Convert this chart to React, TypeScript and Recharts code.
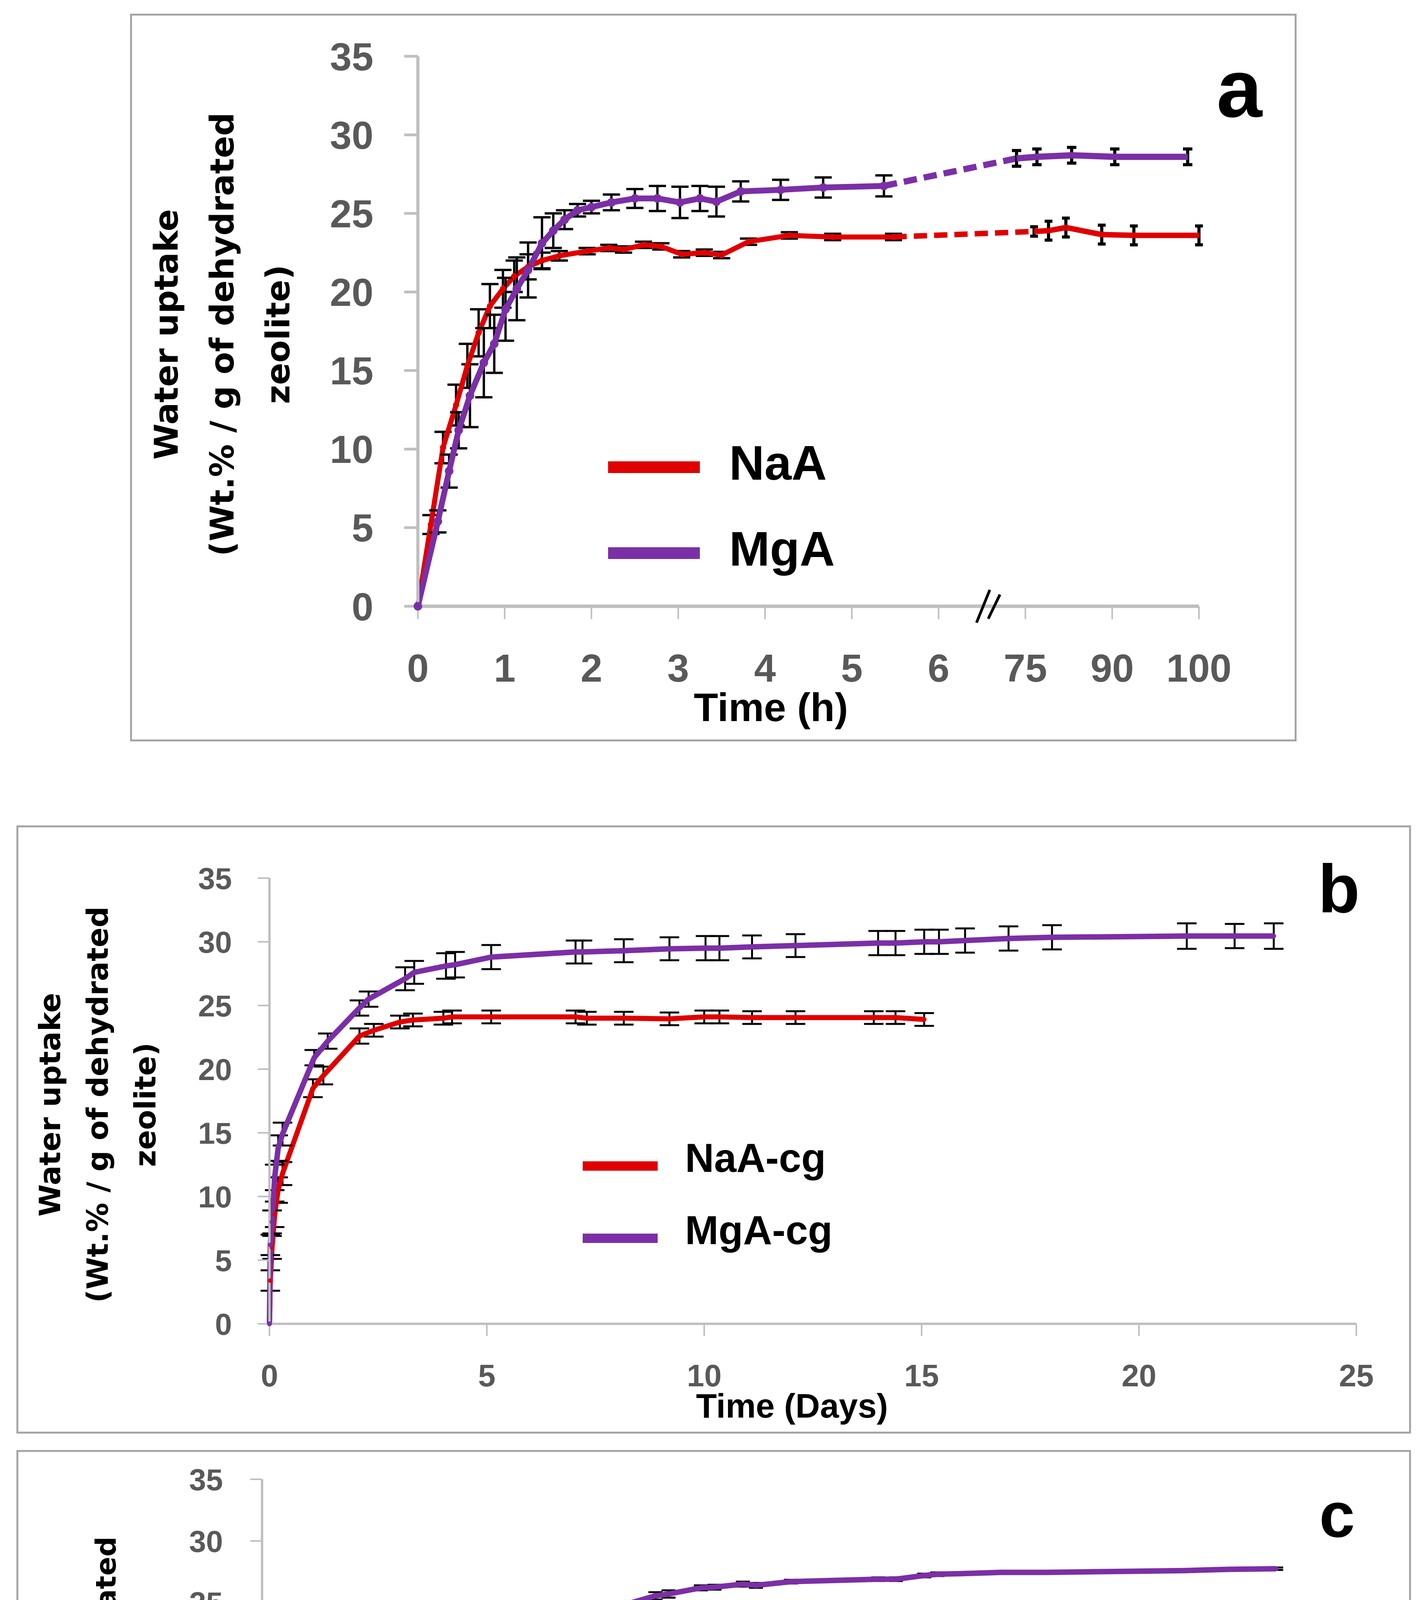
import React from 'react';
import { LineChart, Line, XAxis, YAxis, ErrorBar, Legend, ReferenceDot } from 'recharts';

const RED = '#E00000';
const PURPLE = '#7B2FA6';
const AXIS = '#BFBFBF';
const TICK_TEXT = '#595959';
const BORDER = '#A6A6A6';
const SANS = "'Liberation Sans', Arial, sans-serif";
const WIDE = "'DejaVu Sans', Verdana, sans-serif";

const uptakeTicks = [0, 5, 10, 15, 20, 25, 30, 35];
const dayTicks = [0, 5, 10, 15, 20, 25];

// (a) time in hours, the axis is broken after 6 h
const hourTicks = [0, 1, 2, 3, 4, 5, 6, 75, 90, 100];

const naAHours = [0, 0.15, 0.29, 0.44, 0.57, 0.7, 0.83, 0.98, 1.11, 1.27, 1.43, 1.63, 1.95, 2.2, 2.37, 2.6, 2.8, 3.04, 3.3, 3.5, 3.81, 4.28, 4.78, 5.48];
const naAUptake = [0, 5.2, 10.1, 12.8, 15.3, 17.4, 19.1, 20.2, 21.0, 21.6, 22.0, 22.3, 22.6, 22.8, 22.7, 23.0, 22.9, 22.4, 22.5, 22.35, 23.2, 23.6, 23.5, 23.5];
const naAError = [0, 0.6, 1.0, 1.3, 1.4, 1.5, 1.4, 1.2, 1.0, 0.8, 0.5, 0.3, 0.2, 0.2, 0.2, 0.2, 0.2, 0.2, 0.2, 0.2, 0.2, 0.2, 0.2, 0.2];
const naALateHours = [76.5, 79, 82, 88.2, 92.5, 100];
const naALateUptake = [23.85, 23.9, 24.1, 23.65, 23.6, 23.6];
const naALateError = [0.3, 0.6, 0.6, 0.6, 0.6, 0.6];

const mgAHours = [0, 0.23, 0.36, 0.47, 0.6, 0.76, 0.88, 1.01, 1.14, 1.27, 1.43, 1.56, 1.69, 1.84, 2.0, 2.23, 2.5, 2.76, 3.02, 3.25, 3.44, 3.72, 4.18, 4.67, 5.37];
const mgAUptake = [0, 5.4, 8.6, 11.2, 13.4, 15.5, 16.7, 18.9, 20.2, 21.4, 23.1, 23.9, 24.6, 25.2, 25.4, 25.7, 25.95, 25.95, 25.7, 25.95, 25.75, 26.4, 26.5, 26.65, 26.75];
const mgAError = [0, 0.7, 1.05, 1.15, 2.0, 2.2, 1.85, 2.0, 2.0, 1.75, 1.65, 1.1, 0.6, 0.4, 0.4, 0.5, 0.6, 0.8, 1.0, 0.8, 0.95, 0.64, 0.64, 0.64, 0.67];
const mgALateHours = [68, 77, 83, 90.3, 98.7];
const mgALateUptake = [28.5, 28.6, 28.7, 28.6, 28.6];
const mgALateError = [0.5, 0.5, 0.5, 0.5, 0.5];

// (b) time in days
const naACgDays = [0, 0.02, 0.06, 0.12, 0.2, 0.3, 1.0, 1.24, 2.07, 2.4, 3.0, 3.3, 4.0, 4.2, 5.1, 7.04, 7.3, 8.15, 9.2, 10.0, 10.35, 11.1, 12.1, 13.9, 14.4, 15.06];
const naACgUptake = [0, 3.4, 6.0, 8.6, 10.5, 11.8, 18.5, 19.5, 22.6, 23.05, 23.7, 23.86, 24.0, 24.1, 24.1, 24.1, 24.0, 24.0, 23.95, 24.1, 24.1, 24.05, 24.05, 24.05, 24.05, 23.9];
const naACgError = [0, 0.8, 0.9, 1.0, 1.0, 0.9, 0.7, 0.7, 0.6, 0.5, 0.5, 0.5, 0.5, 0.5, 0.5, 0.5, 0.5, 0.5, 0.5, 0.5, 0.5, 0.5, 0.5, 0.5, 0.5, 0.5];

const mgACgDays = [0, 0.02, 0.06, 0.12, 0.2, 0.3, 1.03, 1.34, 2.07, 2.28, 3.12, 3.33, 4.06, 4.27, 5.1, 7.04, 7.2, 8.15, 9.2, 10.03, 10.35, 11.1, 12.1, 14.0, 14.4, 15.06, 15.4, 16.0, 17.0, 18.0, 21.1, 22.2, 23.1];
const mgACgUptake = [0, 6.2, 8.0, 11.5, 13.8, 14.9, 20.9, 22.2, 24.8, 25.5, 27.1, 27.6, 28.1, 28.2, 28.8, 29.2, 29.2, 29.3, 29.45, 29.5, 29.5, 29.6, 29.7, 29.9, 29.9, 30.0, 30.0, 30.1, 30.26, 30.35, 30.45, 30.45, 30.45];
const mgACgError = [0, 0.8, 0.9, 1.0, 1.0, 0.9, 0.6, 0.6, 0.6, 0.6, 0.9, 0.9, 1.0, 1.0, 0.95, 0.9, 0.9, 0.9, 0.9, 0.95, 0.95, 0.9, 0.9, 0.95, 0.95, 0.95, 0.95, 0.95, 0.95, 0.95, 1.0, 0.95, 1.0];

// (c) time in days
const naACmpDays = [0, 0.08, 0.17, 0.25, 0.35, 0.98, 1.19, 2.02, 2.3, 2.96, 3.27, 4.0, 4.27, 5.04, 6.9, 7.17, 8.0, 9.0, 9.3, 10.04, 10.35, 11.0, 11.3, 12.0, 14.0, 14.4, 15.1];
const naACmpUptake = [0, 1.6, 3.5, 4.8, 5.4, 11.4, 12.4, 17.1, 18.1, 20.8, 21.4, 22.7, 22.85, 23.1, 23.2, 23.3, 23.3, 23.2, 23.3, 23.3, 23.3, 23.3, 23.2, 23.3, 23.35, 23.3, 23.5];
const naACmpError = [0, 0.4, 0.4, 0.4, 0.4, 0.5, 0.5, 0.5, 0.5, 0.4, 0.4, 0.3, 0.3, 0.3, 0.3, 0.3, 0.3, 0.3, 0.3, 0.3, 0.3, 0.3, 0.3, 0.3, 0.35, 0.35, 0.45];

const mgACmpDays = [0, 0.08, 0.15, 0.25, 0.35, 1.08, 1.29, 2.02, 2.3, 3.06, 3.33, 4.0, 4.27, 5.04, 6.9, 7.17, 8.06, 9.0, 9.3, 10.04, 10.35, 11.0, 11.3, 12.1, 14.1, 14.5, 15.15, 15.45, 16.0, 16.9, 17.96, 21.1, 22.1, 23.2];
const mgACmpUptake = [0, 1.3, 2.9, 4.1, 4.9, 9.2, 10.0, 12.7, 13.5, 15.6, 16.3, 17.8, 18.4, 20.0, 23.2, 23.65, 24.6, 25.55, 25.7, 26.2, 26.25, 26.5, 26.4, 26.7, 26.9, 26.9, 27.2, 27.3, 27.35, 27.45, 27.45, 27.6, 27.7, 27.75];
const mgACmpError = [0, 0.4, 0.4, 0.4, 0.4, 0.45, 0.45, 0.45, 0.45, 0.45, 0.45, 0.5, 0.5, 0.5, 0.3, 0.3, 0.3, 0.3, 0.3, 0.2, 0.2, 0.2, 0.2, 0.15, 0.15, 0.15, 0.15, 0.15, 0.1, 0.1, 0.1, 0.1, 0.1, 0.1];

type Row = { x: number; y: number; err: number };

// piecewise map of hours onto the broken axis (one unit per tick)
const hourToAxis = (h: number) => {
  for (let i = 0; i < hourTicks.length - 1; i++) {
    const a = hourTicks[i];
    const b = hourTicks[i + 1];
    if (h <= b) return i + (h - a) / (b - a);
  }
  return hourTicks.length - 1;
};

const rows = (xs: number[], ys: number[], es: number[], map = (v: number) => v): Row[] =>
  xs.map((x, i) => ({ x: map(x), y: ys[i], err: es[i] }));

const naAEarly = rows(naAHours, naAUptake, naAError, hourToAxis);
const naALate = rows(naALateHours, naALateUptake, naALateError, hourToAxis);
const mgAEarly = rows(mgAHours, mgAUptake, mgAError, hourToAxis);
const mgALate = rows(mgALateHours, mgALateUptake, mgALateError, hourToAxis);
const naABridge = [naAEarly[naAEarly.length - 1], naALate[0]];
const mgABridge = [mgAEarly[mgAEarly.length - 1], mgALate[0]];

const naACg = rows(naACgDays, naACgUptake, naACgError);
const mgACg = rows(mgACgDays, mgACgUptake, mgACgError);
const naACmp = rows(naACmpDays, naACmpUptake, naACmpError);
const mgACmp = rows(mgACmpDays, mgACmpUptake, mgACmpError);

// room kept for the axes inside the chart margins
const Y_AXIS_W = 120;
const X_AXIS_H = 120;

const Frame = ({ left, top, width, height, children }: any) => (
  <div style={{ position: 'absolute', left, top, width, height }}>
    <div
      style={{
        position: 'absolute',
        inset: 0,
        border: `5px solid ${BORDER}`,
        boxSizing: 'border-box',
      }}
    />
    {children}
  </div>
);

const YTitle = ({ cx, cy, lines, fontSize, lineHeight }: any) => (
  <div
    style={{
      position: 'absolute',
      left: cx,
      top: cy,
      transform: 'translate(-50%, -50%) rotate(-90deg)',
      whiteSpace: 'nowrap',
      textAlign: 'center',
      fontFamily: WIDE,
      fontWeight: 'bold',
      fontSize,
      lineHeight: `${lineHeight}px`,
      color: '#000',
    }}
  >
    {lines.map((l: string) => (
      <div key={l}>{l}</div>
    ))}
  </div>
);

const XTitle = ({ cx, cy, text, fontSize }: any) => (
  <div
    style={{
      position: 'absolute',
      left: cx,
      top: cy,
      transform: 'translate(-50%, -50%)',
      whiteSpace: 'nowrap',
      fontFamily: SANS,
      fontWeight: 'bold',
      fontSize,
      lineHeight: 1,
      color: '#000',
    }}
  >
    {text}
  </div>
);

const PanelLetter = ({ left, top, text, fontSize }: any) => (
  <div
    style={{
      position: 'absolute',
      left,
      top,
      fontFamily: SANS,
      fontWeight: 'bold',
      fontSize,
      lineHeight: 1,
      color: '#000',
    }}
  >
    {text}
  </div>
);

// legend drawn from the chart's own payload, kept in series order
const legendContent = (
  order: string[],
  o: { rowH: number; swW: number; swH: number; gap: number; fontSize: number; lift: number }
) => (props: any) => {
  const items = (props.payload || [])
    .filter((p: any) => p.type !== 'none' && order.includes(p.value))
    .sort((a: any, b: any) => order.indexOf(a.value) - order.indexOf(b.value));
  return (
    <div>
      {items.map((p: any) => (
        <div key={p.value} style={{ display: 'flex', alignItems: 'center', height: o.rowH }}>
          <div style={{ width: o.swW, height: o.swH, background: p.color }} />
          <span
            style={{
              marginLeft: o.gap,
              fontFamily: SANS,
              fontWeight: 'bold',
              fontSize: o.fontSize,
              lineHeight: 1,
              color: '#000',
              position: 'relative',
              top: -o.lift,
            }}
          >
            {p.value}
          </span>
        </div>
      ))}
    </div>
  );
};

const tickFont = (size: number) => ({ fill: TICK_TEXT, fontSize: size, fontFamily: SANS, fontWeight: 'bold' });

// the "//" sign drawn where the time axis is broken
const BreakMark = (props: any) => {
  const { cx, cy } = props;
  return (
    <g stroke="#000" strokeWidth={7}>
      <line x1={cx - 14} y1={cy + 42} x2={cx + 20} y2={cy - 42} />
      <line x1={cx + 16} y1={cy + 32} x2={cx + 46} y2={cy - 30} />
    </g>
  );
};

const PanelA = () => (
  <Frame left={333} top={35} width={2987} height={1863}>
    <LineChart
      width={2987}
      height={1863}
      margin={{ top: 109, right: 250, bottom: 346 - X_AXIS_H, left: 737 - Y_AXIS_W }}
    >
      <XAxis
        type="number"
        dataKey="x"
        domain={[0, hourTicks.length - 1]}
        ticks={hourTicks.map((_, i) => i)}
        tickFormatter={(v: number) => String(hourTicks[v])}
        interval={0}
        height={X_AXIS_H}
        axisLine={{ stroke: AXIS, strokeWidth: 9 }}
        tickLine={{ stroke: AXIS, strokeWidth: 4 }}
        tickSize={33}
        tickMargin={89}
        tick={tickFont(100)}
      />
      <YAxis
        type="number"
        domain={[0, 35]}
        ticks={uptakeTicks}
        interval={0}
        width={Y_AXIS_W}
        axisLine={{ stroke: AXIS, strokeWidth: 8 }}
        tickLine={{ stroke: AXIS, strokeWidth: 7 }}
        tickSize={35}
        tickMargin={79}
        tick={tickFont(100)}
      />
      <Legend
        layout="vertical"
        align="center"
        verticalAlign="middle"
        wrapperStyle={{ left: 1224, top: 1051, width: 900 }}
        content={legendContent(['NaA', 'MgA'], { rowH: 220, swW: 235, swH: 30, gap: 75, fontSize: 125, lift: 12 })}
      />
      <Line data={naAEarly} dataKey="y" name="NaA" stroke={RED} strokeWidth={13} dot={{ r: 8, fill: RED, stroke: RED, strokeWidth: 0 }} activeDot={false} isAnimationActive={false}>
        <ErrorBar dataKey="err" width={22} strokeWidth={6} stroke="#000" direction="y" isAnimationActive={false} />
      </Line>
      <Line data={naABridge} dataKey="y" legendType="none" stroke={RED} strokeWidth={14} strokeDasharray="34 18" dot={false} activeDot={false} isAnimationActive={false} />
      <Line data={naALate} dataKey="y" legendType="none" stroke={RED} strokeWidth={14} dot={false} activeDot={false} isAnimationActive={false}>
        <ErrorBar dataKey="err" width={10} strokeWidth={8} stroke="#000" direction="y" isAnimationActive={false} />
      </Line>
      <Line data={mgAEarly} dataKey="y" name="MgA" stroke={PURPLE} strokeWidth={15} dot={{ r: 11, fill: PURPLE, stroke: PURPLE, strokeWidth: 0 }} activeDot={false} isAnimationActive={false}>
        <ErrorBar dataKey="err" width={22} strokeWidth={6} stroke="#000" direction="y" isAnimationActive={false} />
      </Line>
      <Line data={mgABridge} dataKey="y" legendType="none" stroke={PURPLE} strokeWidth={16} strokeDasharray="34 18" dot={false} activeDot={false} isAnimationActive={false} />
      <Line data={mgALate} dataKey="y" legendType="none" stroke={PURPLE} strokeWidth={16} dot={false} activeDot={false} isAnimationActive={false}>
        <ErrorBar dataKey="err" width={12} strokeWidth={8} stroke="#000" direction="y" isAnimationActive={false} />
      </Line>
      <ReferenceDot x={(hourToAxis(6) + hourToAxis(75)) / 2} y={0} r={0} ifOverflow="visible" shape={BreakMark} />
    </LineChart>
    <YTitle cx={236} cy={821} fontSize={84} lineHeight={143} lines={['Water uptake', '(Wt.% / g of dehydrated', 'zeolite)']} />
    <XTitle cx={1641} cy={1776} fontSize={102} text="Time (h)" />
    <PanelLetter left={2782} top={87} fontSize={210} text="a" />
  </Frame>
);

const DaysPanel = (p: any) => (
  <Frame left={p.left} top={p.top} width={p.width} height={p.height}>
    <LineChart
      width={p.width}
      height={p.height}
      margin={{ top: p.margin.top, right: p.margin.right, bottom: p.margin.bottom - X_AXIS_H, left: p.margin.left - Y_AXIS_W }}
    >
      <XAxis
        type="number"
        dataKey="x"
        domain={[0, 25]}
        ticks={dayTicks}
        interval={0}
        height={X_AXIS_H}
        axisLine={{ stroke: AXIS, strokeWidth: 6 }}
        tickLine={{ stroke: AXIS, strokeWidth: 4 }}
        tickSize={31}
        tickMargin={72}
        tick={tickFont(80)}
      />
      <YAxis
        type="number"
        domain={[0, 35]}
        ticks={uptakeTicks}
        interval={0}
        width={Y_AXIS_W}
        axisLine={{ stroke: AXIS, strokeWidth: 6 }}
        tickLine={{ stroke: AXIS, strokeWidth: 4 }}
        tickSize={30}
        tickMargin={p.yTickMargin}
        tick={tickFont(78)}
      />
      <Legend
        layout="vertical"
        align="center"
        verticalAlign="middle"
        wrapperStyle={{ left: p.legendLeft, top: p.legendTop, width: 900 }}
        content={legendContent([p.naAName, p.mgAName], { rowH: p.legendRow, swW: 192, swH: 24, gap: 70, fontSize: 103, lift: 20 })}
      />
      <Line data={p.naA} dataKey="y" name={p.naAName} stroke={RED} strokeWidth={13} dot={{ r: 6, fill: RED, stroke: RED, strokeWidth: 0 }} activeDot={false} isAnimationActive={false}>
        <ErrorBar dataKey="err" width={p.cap} strokeWidth={5} stroke="#000" direction="y" isAnimationActive={false} />
      </Line>
      <Line data={p.mgA} dataKey="y" name={p.mgAName} stroke={PURPLE} strokeWidth={14} dot={{ r: 6, fill: PURPLE, stroke: PURPLE, strokeWidth: 0 }} activeDot={false} isAnimationActive={false}>
        <ErrorBar dataKey="err" width={p.cap} strokeWidth={5} stroke="#000" direction="y" isAnimationActive={false} />
      </Line>
    </LineChart>
    <YTitle cx={p.yTitle[0]} cy={p.yTitle[1]} fontSize={p.yTitleSize} lineHeight={p.yTitleLine} lines={p.yTitleLines} />
    <XTitle cx={p.xTitle[0]} cy={p.xTitle[1]} fontSize={87} text={p.xTitleText} />
    <PanelLetter left={p.letterPos[0]} top={p.letterPos[1]} fontSize={p.letterSize} text={p.letter} />
  </Frame>
);

export default function App() {
  return (
    <div style={{ position: 'relative', width: 3636, height: 5213, margin: -8, background: '#fff' }}>
      <PanelA />
      <DaysPanel
        left={42}
        top={2113}
        width={3571}
        height={1557}
        margin={{ top: 135, right: 140, bottom: 281, left: 648 }}
        yTickMargin={66}
        legendLeft={1450}
        legendTop={779}
        legendRow={185}
        naA={naACg}
        mgA={mgACg}
        naAName="NaA-cg"
        mgAName="MgA-cg"
        cap={25}
        yTitle={[208, 715]}
        yTitleSize={75}
        yTitleLine={122}
        yTitleLines={['Water uptake', '(Wt.% / g of dehydrated', 'zeolite)']}
        xTitle={[1986, 1485]}
        xTitleText="Time (Days)"
        letterPos={[3333, 75]}
        letterSize={175}
        letter="b"
      />
      <DaysPanel
        left={42}
        top={3712}
        width={3571}
        height={1473}
        margin={{ top: 75, right: 144, bottom: 293, left: 629 }}
        yTickMargin={70}
        legendLeft={1434}
        legendTop={688}
        legendRow={183}
        naA={naACmp}
        mgA={mgACmp}
        naAName="NaA-cmp"
        mgAName="MgA-cmp"
        cap={18}
        yTitle={[229, 696]}
        yTitleSize={72}
        yTitleLine={113}
        yTitleLines={['Water uptake', '(Wt. %/g of dehydrated', 'zeolite)']}
        xTitle={[1858, 1398]}
        xTitleText="Time (days)"
        letterPos={[3336, 84]}
        letterSize={164}
        letter="c"
      />
    </div>
  );
}
